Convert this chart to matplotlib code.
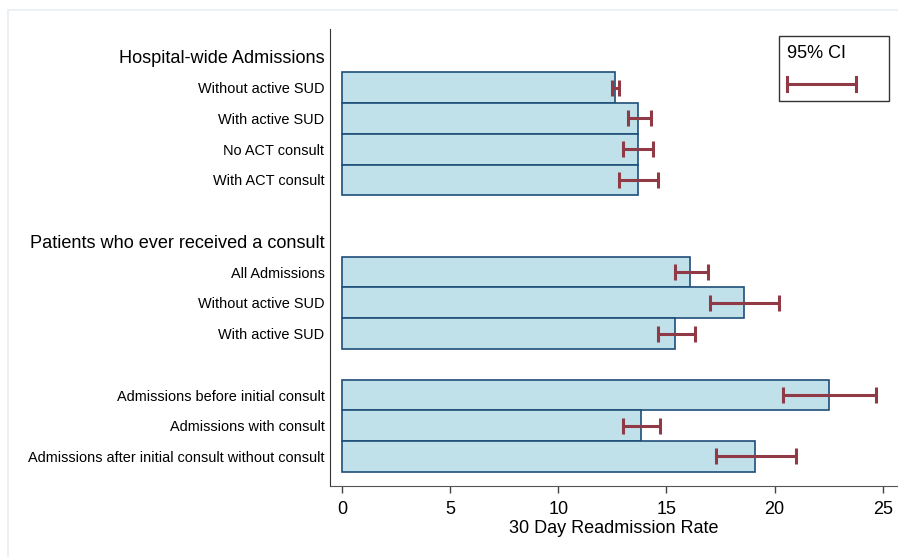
import numpy as np
import matplotlib
matplotlib.use("Agg")
import matplotlib.pyplot as plt
from matplotlib.patches import Rectangle
from matplotlib.lines import Line2D

plt.rcParams["font.family"] = ["Liberation Sans", "DejaVu Sans"]

# Donnees (taux de readmission a 30 jours, IC 95%)
labels = ["Without active SUD", "With active SUD", "No ACT consult", "With ACT consult",
          "All Admissions", "Without active SUD", "With active SUD",
          "Admissions before initial consult", "Admissions with consult",
          "Admissions after initial consult without consult"]
rates = [12.6, 13.7, 13.7, 13.7, 16.1, 18.6, 15.4, 22.5, 13.8, 19.1]
ci_low = [12.5, 13.2, 13.0, 12.8, 15.4, 17.0, 14.6, 20.4, 13.0, 17.3]
ci_high = [12.8, 14.3, 14.4, 14.6, 16.9, 20.2, 16.3, 24.7, 14.7, 21.0]
headings = {0: "Hospital-wide Admissions", 6: "Patients who ever received a consult", 10: ""}
slots = [1, 2, 3, 4, 7, 8, 9, 11, 12, 13]

bar_fill = "#c0e0ea"
bar_edge = "#1f4e79"
ci_color = "#8f3a44"

fig = plt.figure(figsize=(8.98, 5.57), dpi=100)
ax = fig.add_axes([330 / 898, (557 - 486) / 557, 568 / 898, (486 - 29) / 557])

ax.barh(slots, rates, height=1.0, color=bar_fill, edgecolor=bar_edge, linewidth=1.2, zorder=2)

err_lo = np.array(rates) - np.array(ci_low)
err_hi = np.array(ci_high) - np.array(rates)
ax.errorbar(rates, slots, xerr=[err_lo, err_hi], fmt="none", ecolor=ci_color,
            elinewidth=2.2, capsize=5.5, capthick=2.2, zorder=3)

# etiquettes y : titres de groupes + categories
ytick_pos = sorted(list(slots) + list(headings.keys()))
ytick_lab = []
for p in ytick_pos:
    if p in headings:
        ytick_lab.append(headings[p])
    else:
        ytick_lab.append(labels[slots.index(p)])
ax.set_yticks(ytick_pos)
ax.set_yticklabels(ytick_lab)
for p, t in zip(ytick_pos, ax.get_yticklabels()):
    t.set_fontsize(13.1 if p in headings else 10.45)
ax.tick_params(axis="y", length=0, pad=4)

ax.set_ylim(13.96, -0.91)
ax.set_xlim(-0.55, 25.7)
ax.set_xticks([0, 5, 10, 15, 20, 25])
ax.tick_params(axis="x", length=5, width=1, labelsize=13, color="#444444", pad=6)
ax.set_xlabel("30 Day Readmission Rate", fontsize=13, labelpad=1)

for s in ["top", "right"]:
    ax.spines[s].set_visible(False)
ax.spines["left"].set_color("#333333")
ax.spines["bottom"].set_color("#555555")

# legende IC 95%
leg = Rectangle((779 / 898, 1 - 101 / 557), 110 / 898, 65 / 557, transform=fig.transFigure,
                facecolor="white", edgecolor="#333333", linewidth=1.0, zorder=5)
fig.patches.append(leg)
fig.text(787 / 898, 1 - 54 / 557, "95% CI", fontsize=13, va="center", ha="left", zorder=6)
y_leg = 1 - 84 / 557
fig.add_artist(Line2D([787 / 898, 856 / 898], [y_leg, y_leg], color=ci_color, lw=2.2, zorder=6))
for xx in [787 / 898, 856 / 898]:
    fig.add_artist(Line2D([xx, xx], [y_leg - 7 / 557, y_leg + 7 / 557], color=ci_color, lw=2.2, zorder=6))

# cadre clair autour de la zone du graphique
fig.patches.append(Rectangle((8 / 898, -0.1), 1.0, 1 - 10 / 557 + 0.1, transform=fig.transFigure,
                             facecolor="none", edgecolor="#e6eef2", linewidth=1.2, zorder=0))

fig.savefig("out.png", dpi=100)
